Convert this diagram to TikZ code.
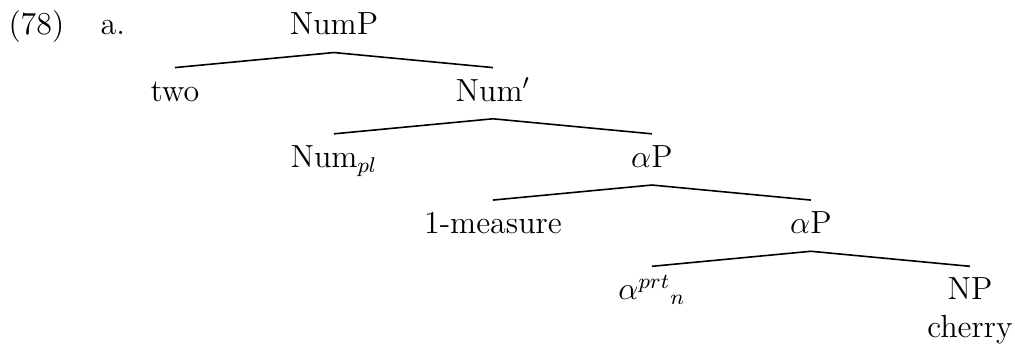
\documentclass[tikz,border=0pt,12pt]{standalone}
\usepackage{tikz}
\usetikzlibrary{positioning}

\begin{document}
\begin{tikzpicture}[
    x=29.81pt, y=24.84pt,
    cat/.style={anchor=base, inner sep=0pt, text height=12.4pt, text depth=6.4pt},
    lex/.style={anchor=base, inner sep=0pt},
    exlab/.style={anchor=base west, inner sep=0pt},
    branch/.style={line width=0.6pt},
  ]
  \useasboundingbox (-65.6pt,13.1pt) rectangle (315pt,-116.3pt);
  \node[exlab] (exnum) at (-2.1,0) {(78)};
  \node[exlab] (exa) at (-0.94,0) {a.};
  % the tree
  \node[cat] (nump) at (2,0) {NumP};
  \node[cat] (two) at (0,-1) {two};
  \node[cat] (numbar) at (4,-1) {Num$'$};
  \node[cat] (numpl) at (2,-2) {Num$_{pl}$};
  \node[cat] (alphap) at (6,-2) {$\alpha$P};
  \node[cat] (measure) at (4,-3) {1-measure};
  \node[cat] (alphalow) at (8,-3) {$\alpha$P};
  \node[cat] (alphan) at (6,-4) {$\alpha^{prt}{}_{n}$};
  \node[cat] (np) at (10,-4) {NP};
  \node[lex, yshift=-14.25pt] (cherry) at (np.base) {cherry};
  \draw[branch] (two.north) -- (nump.south) -- (numbar.north);
  \draw[branch] (numpl.north) -- (numbar.south) -- (alphap.north);
  \draw[branch] (measure.north) -- (alphap.south) -- (alphalow.north);
  \draw[branch] (alphan.north) -- (alphalow.south) -- (np.north);
\end{tikzpicture}
\end{document}
